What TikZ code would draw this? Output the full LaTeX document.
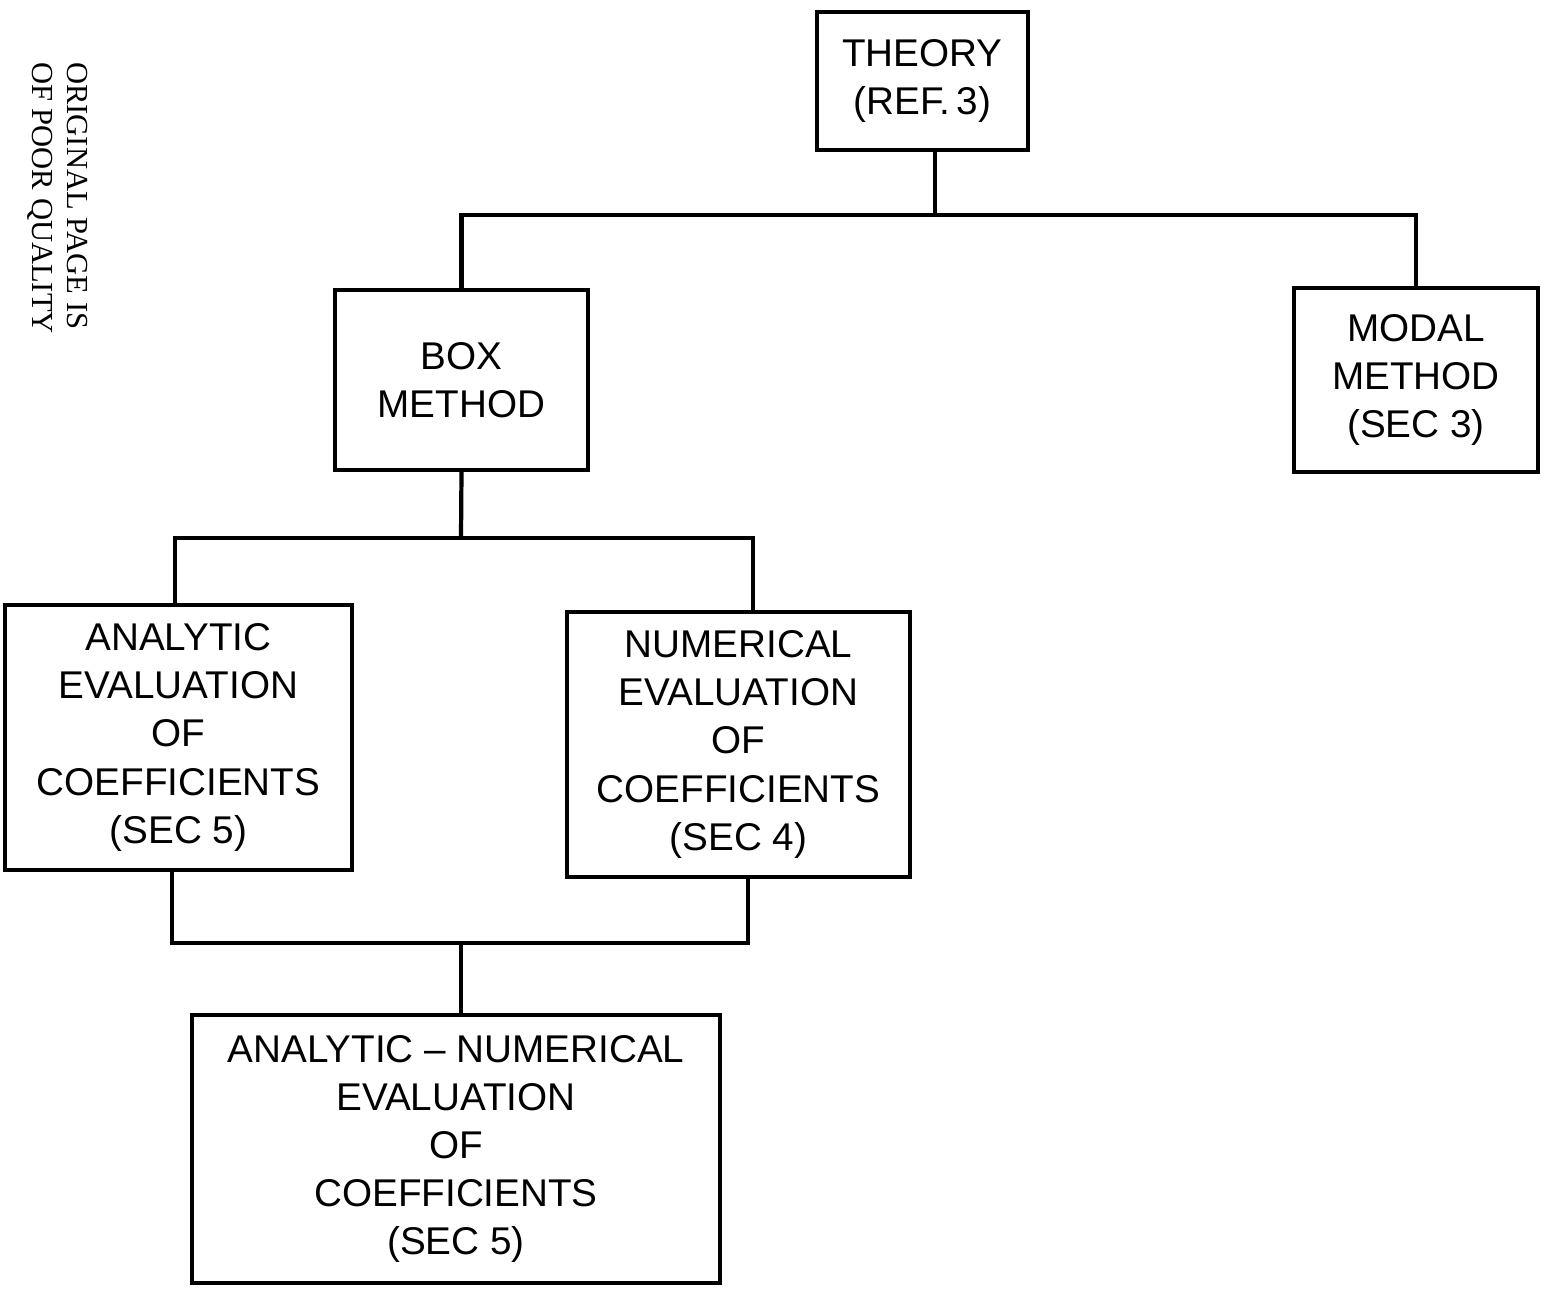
\documentclass[tikz,border=0pt]{standalone}
\usepackage{fontspec}
\setmainfont{Liberation Sans}
\newfontfamily\notefont{Liberation Serif}
\usetikzlibrary{positioning,calc}

\begin{document}
\begin{tikzpicture}[
    block/.style={rectangle, draw, line width=1.2pt, align=center, inner sep=0pt,
        font=\fontsize{11}{13.7}\selectfont},
    link/.style={line width=1.2pt},
    note/.style={rotate=-90, align=left, font=\notefont\fontsize{8.7}{10}\selectfont}
]
    \useasboundingbox (0,0) rectangle (15.49,12.89);

    % Top level
    \node[block, minimum width=2.11cm, minimum height=1.38cm] (theory) at (9.225,12.08) {THEORY\\(REF.\,3)};

    % Methods
    \node[block, minimum width=2.53cm, minimum height=1.80cm] (boxm) at (4.615,9.09) {BOX\\METHOD};
    \node[block, minimum width=2.44cm, minimum height=1.84cm] (modal) at (14.16,9.09) {MODAL\\METHOD\\(SEC 3)};

    % Coefficient evaluation
    \node[block, minimum width=3.47cm, minimum height=2.65cm] (analytic) at (1.785,5.515) {ANALYTIC\\EVALUATION\\OF\\COEFFICIENTS\\(SEC 5)};
    \node[block, minimum width=3.43cm, minimum height=2.65cm] (numerical) at (7.385,5.445) {NUMERICAL\\EVALUATION\\OF\\COEFFICIENTS\\(SEC 4)};
    \node[block, minimum width=5.28cm, minimum height=2.68cm] (anum) at (4.56,1.40) {ANALYTIC – NUMERICAL\\EVALUATION\\OF\\COEFFICIENTS\\(SEC 5)};

    % Margin note
    \node[note] (quality) at (0.575,10.91) {ORIGINAL PAGE IS\\OF POOR QUALITY};

    % Connections
    \coordinate (tsplit) at (9.35,10.74);
    \coordinate (bsplit) at (4.61,7.51);
    \coordinate (csplit) at (4.61,3.46);
    \draw[link] ([xshift=0.125cm]theory.south) -- ([xshift=0.125cm]theory.south |- tsplit);
    \draw[link] (boxm.north) |- (tsplit) -| (modal.north);
    \draw[link] (boxm.south) -- (bsplit);
    \draw[link] ([xshift=-0.035cm]analytic.north) |- (bsplit) -| ([xshift=0.145cm]numerical.north);
    \draw[link] ([xshift=-0.065cm]analytic.south) |- (csplit) -| ([xshift=0.095cm]numerical.south);
    \draw[link] (csplit) -- (csplit |- anum.north);
\end{tikzpicture}
\end{document}
